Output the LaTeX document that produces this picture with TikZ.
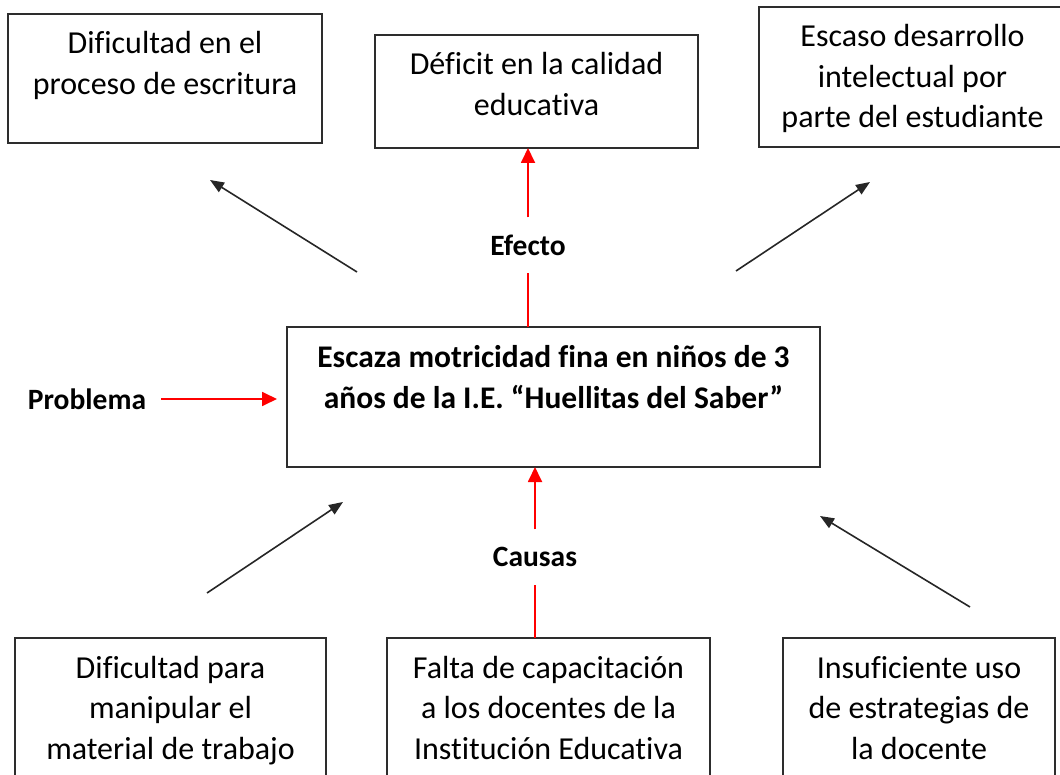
\documentclass[tikz,border=0pt]{standalone}
\usepackage{fontspec}
\setmainfont{Carlito}[Ligatures={NoCommon}]
\usetikzlibrary{arrows.meta}
\definecolor{bordegris}{RGB}{45,45,45}
\definecolor{rojoflecha}{RGB}{255,0,0}
\newcommand{\cajatexto}[3]{\parbox[c][#2][t]{#1}{\centering\rule{0pt}{40pt}#3}}

\begin{document}
\begin{tikzpicture}[x=1pt, y=-1pt,
  every node/.style={font=\fontsize{32}{40.5}\selectfont},
  caja/.style={draw=bordegris, line width=1.6pt, anchor=north west, inner sep=0pt, outer sep=0pt},
  etiqueta/.style={font=\bfseries\fontsize{29.5}{35}\selectfont, inner sep=0pt, minimum height=55pt},
  flecha/.style={-{Triangle[length=14pt,width=11pt]}, line width=1.6pt, black!85},
  linearoja/.style={line width=1.8pt, rojoflecha},
  flecharoja/.style={-{Triangle[length=15pt,width=14pt]}, line width=1.8pt, rojoflecha}]
  \useasboundingbox (0,0) rectangle (1060,775);
  \clip (0,0) rectangle (1060,775);
  % efectos
  \node[caja] (dificultad) at (8,14) {\cajatexto{314pt}{129pt}{Dificultad en el\\proceso de escritura}};
  \node[caja] (deficit) at (375,35) {\cajatexto{323pt}{113pt}{Déficit en la calidad\\educativa}};
  \node[caja] (escaso) at (759,7) {\cajatexto{307pt}{140pt}{Escaso desarrollo\\intelectual por\\parte del estudiante}};
  % problema
  \node[caja, font=\bfseries\fontsize{31.5}{42}\selectfont] (escaza) at (287,327) {\cajatexto{533pt}{140pt}{Escaza motricidad fina en niños de 3\\años de la I.E. “Huellitas del Saber”}};
  % causas
  \node[caja] (manipular) at (15,638) {\cajatexto{311pt}{160pt}{Dificultad para\\manipular el\\material de trabajo}};
  \node[caja] (falta) at (387,638) {\cajatexto{323pt}{160pt}{Falta de capacitación\\a los docentes de la\\Institución Educativa}};
  \node[caja] (insuficiente) at (783,638) {\cajatexto{272pt}{160pt}{Insuficiente uso\\de estrategias de\\la docente}};
  % etiquetas
  \node[etiqueta] (efecto) at (528,245) {Efecto};
  \node[etiqueta] (causas) at (535,557) {Causas};
  \node[etiqueta, minimum height=0pt] (problema) at (87,399) {Problema};
  % flechas negras
  \coordinate (ef1a) at (357,272);
  \coordinate (ef1b) at (210,180);
  \coordinate (ef3a) at (736,271);
  \coordinate (ef3b) at (870,182);
  \coordinate (ca1a) at (207,593);
  \coordinate (ca1b) at (343,502);
  \coordinate (ca3a) at (970,607);
  \coordinate (ca3b) at (820,516);
  \draw[flecha] (ef1a) -- (ef1b);
  \draw[flecha] (ef3a) -- (ef3b);
  \draw[flecha] (ca1a) -- (ca1b);
  \draw[flecha] (ca3a) -- (ca3b);
  % flechas rojas
  \draw[linearoja] (escaza.north -| efecto) -- (efecto);
  \draw[flecharoja] (efecto) -- (efecto |- deficit.south);
  \draw[linearoja] (falta.north -| causas) -- (causas);
  \draw[flecharoja] (causas) -- (causas |- escaza.south);
  \draw[flecharoja, shorten <=15pt, shorten >=10pt] (problema.east) -- (problema.east -| escaza.west);
\end{tikzpicture}
\end{document}
